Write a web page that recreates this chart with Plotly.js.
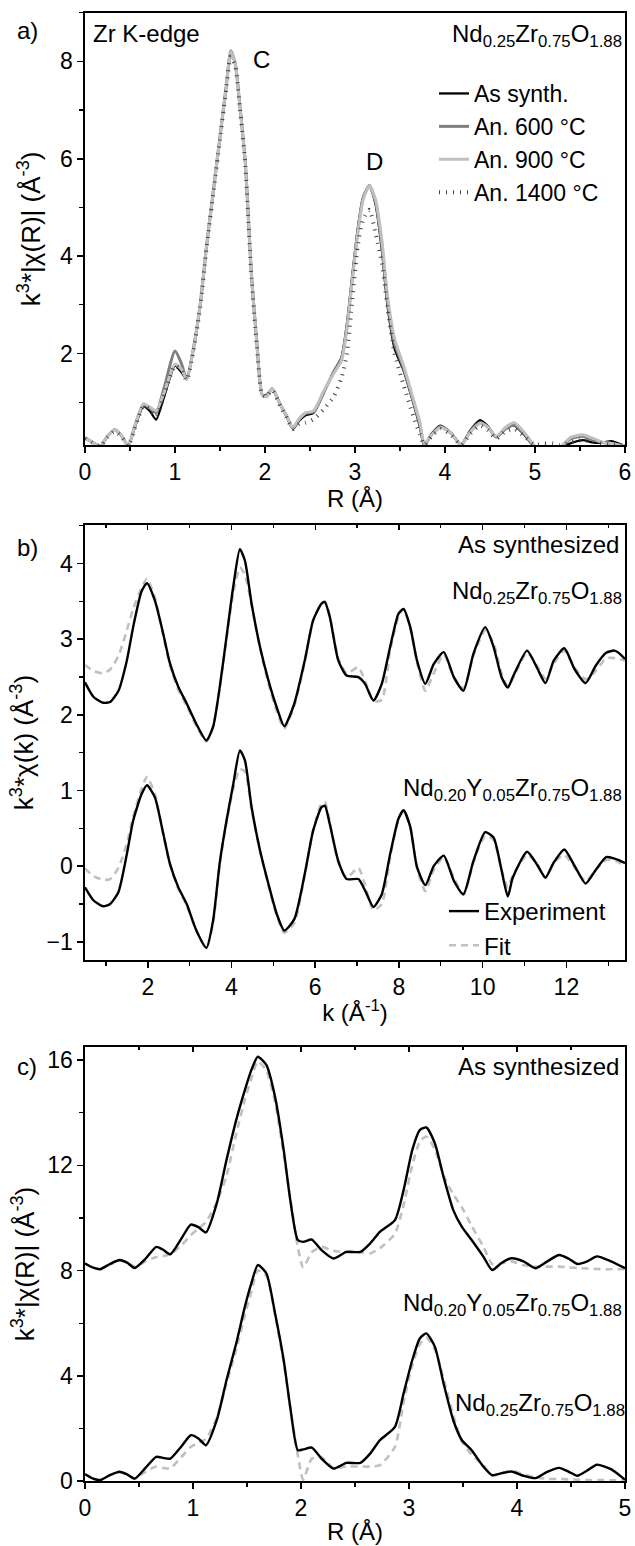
<!DOCTYPE html>
<html>
<head>
<meta charset="utf-8">
<script src="https://cdn.plot.ly/plotly-3.0.1.min.js"></script>
<style>html,body{margin:0;padding:0;background:#fff}#chart{width:635px;height:1546px}</style>
</head>
<body>
<div id="chart"></div>
<script>
// ---------- Panel a: Zr K-edge FT magnitude ----------
const Ra = [0, 0.08, 0.17, 0.25, 0.33, 0.41, 0.48, 0.56, 0.65, 0.72,
  0.79, 0.88, 1.0, 1.07, 1.13, 1.2, 1.28, 1.35, 1.43, 1.5,
  1.57, 1.62, 1.67, 1.72, 1.78, 1.85, 1.91, 1.97, 2.02, 2.08,
  2.17, 2.24, 2.31, 2.38, 2.45, 2.54, 2.65, 2.76, 2.85, 2.91,
  2.97, 3.03, 3.09, 3.16, 3.23, 3.3, 3.36, 3.44, 3.54, 3.65,
  3.72, 3.77, 3.85, 3.95, 4.07, 4.18, 4.28, 4.39, 4.48, 4.57,
  4.67, 4.77, 4.88, 5.0, 5.1, 5.2, 5.28, 5.4, 5.53, 5.65,
  5.75, 5.85, 5.93, 6.0];
const asSynth = [0.27, 0.18, 0.10, 0.30, 0.43, 0.30, 0.10, 0.52, 0.92, 0.82,
  0.64, 1.12, 1.75, 1.62, 1.47, 2.05, 3.00, 4.20, 5.40, 6.45,
  7.50, 8.20, 7.95, 7.10, 5.95, 3.60, 2.20, 1.15, 1.15, 1.28,
  0.95, 0.70, 0.45, 0.62, 0.73, 0.78, 1.18, 1.62, 1.92, 2.60,
  3.60, 4.55, 5.20, 5.45, 5.05, 4.10, 3.00, 2.10, 1.65, 0.97,
  0.50, 0.10, 0.35, 0.52, 0.36, 0.12, 0.42, 0.63, 0.50, 0.28,
  0.45, 0.52, 0.33, 0.08, 0.05, 0.05, 0.07, 0.16, 0.22, 0.17,
  0.17, 0.20, 0.15, 0.10];
const an600 = [0.27, 0.18, 0.10, 0.30, 0.44, 0.30, 0.10, 0.55, 0.95, 0.88,
  0.78, 1.30, 2.05, 1.80, 1.47, 2.05, 3.00, 4.20, 5.40, 6.45,
  7.50, 8.22, 7.95, 7.10, 5.95, 3.60, 2.20, 1.15, 1.12, 1.28,
  0.95, 0.72, 0.47, 0.65, 0.77, 0.80, 1.20, 1.60, 1.90, 2.55,
  3.55, 4.50, 5.20, 5.45, 5.10, 4.20, 3.10, 2.20, 1.70, 1.00,
  0.55, 0.12, 0.33, 0.50, 0.36, 0.12, 0.40, 0.58, 0.48, 0.28,
  0.45, 0.53, 0.35, 0.08, 0.05, 0.05, 0.08, 0.25, 0.30, 0.22,
  0.17, 0.15, 0.12, 0.10];
const an900 = [0.27, 0.18, 0.10, 0.30, 0.44, 0.30, 0.10, 0.55, 0.97, 0.90,
  0.82, 1.20, 1.78, 1.68, 1.47, 2.05, 3.00, 4.20, 5.40, 6.45,
  7.50, 8.20, 7.95, 7.10, 5.95, 3.60, 2.20, 1.15, 1.12, 1.28,
  0.95, 0.72, 0.47, 0.66, 0.78, 0.82, 1.22, 1.58, 1.85, 2.50,
  3.50, 4.45, 5.15, 5.45, 5.15, 4.30, 3.20, 2.30, 1.75, 1.05,
  0.60, 0.15, 0.33, 0.48, 0.36, 0.12, 0.38, 0.56, 0.48, 0.30,
  0.48, 0.58, 0.38, 0.10, 0.05, 0.05, 0.08, 0.28, 0.33, 0.25,
  0.18, 0.15, 0.12, 0.10];
const an1400 = [0.25, 0.17, 0.10, 0.28, 0.40, 0.28, 0.10, 0.50, 0.92, 0.85,
  0.70, 1.15, 1.75, 1.65, 1.45, 2.00, 2.95, 4.15, 5.35, 6.40,
  7.45, 8.10, 7.90, 7.05, 5.90, 3.55, 2.15, 1.15, 1.12, 1.25,
  0.92, 0.68, 0.45, 0.55, 0.58, 0.65, 0.85, 1.10, 1.50, 2.00,
  3.10, 4.20, 4.75, 4.95, 4.45, 3.85, 2.95, 2.00, 1.35, 0.70,
  0.35, 0.12, 0.30, 0.45, 0.32, 0.12, 0.35, 0.52, 0.42, 0.25,
  0.40, 0.45, 0.30, 0.12, 0.15, 0.15, 0.12, 0.18, 0.22, 0.18,
  0.15, 0.12, 0.10, 0.10];
const seriesA = ["As synth.", "An. 600 °C", "An. 900 °C", "An. 1400 °C"];

// ---------- Panel b: k-space EXAFS ----------
const kB = [0.5, 0.7, 0.93, 1.1, 1.3, 1.5, 1.65, 1.85, 1.98, 2.17,
  2.37, 2.53, 2.73, 2.93, 3.16, 3.4, 3.56, 3.72, 3.88, 4.04,
  4.2, 4.32, 4.48, 4.68, 4.88, 5.08, 5.26, 5.5, 5.75, 5.95,
  6.15, 6.23, 6.35, 6.55, 6.75, 7.03, 7.19, 7.39, 7.59, 7.79,
  7.99, 8.11, 8.27, 8.43, 8.63, 8.83, 9.07, 9.31, 9.54, 9.78,
  10.06, 10.26, 10.45, 10.6, 10.72, 11.06, 11.3, 11.5, 11.7, 11.95,
  12.2, 12.46, 12.7, 12.95, 13.15, 13.25, 13.4];
const kExpNdZr = [2.43, 2.24, 2.16, 2.17, 2.32, 2.72, 3.16, 3.63, 3.74, 3.51,
  3.07, 2.68, 2.37, 2.15, 1.88, 1.66, 1.84, 2.37, 3.03, 3.69,
  4.19, 4.04, 3.47, 2.90, 2.46, 2.10, 1.85, 2.15, 2.72, 3.25,
  3.47, 3.49, 3.29, 2.72, 2.52, 2.50, 2.41, 2.19, 2.41, 2.90,
  3.34, 3.40, 3.16, 2.72, 2.41, 2.67, 2.83, 2.50, 2.32, 2.81,
  3.16, 2.90, 2.50, 2.36, 2.50, 2.85, 2.62, 2.42, 2.72, 2.88,
  2.60, 2.42, 2.65, 2.82, 2.85, 2.82, 2.74];
const kFitNdZr = [2.66, 2.58, 2.55, 2.60, 2.78, 3.12, 3.40, 3.68, 3.80, 3.55,
  3.05, 2.65, 2.33, 2.12, 1.85, 1.65, 1.85, 2.37, 3.00, 3.60,
  3.95, 3.85, 3.45, 2.88, 2.42, 2.05, 1.82, 2.12, 2.70, 3.25,
  3.47, 3.50, 3.30, 2.75, 2.55, 2.63, 2.45, 2.18, 2.20, 2.85,
  3.30, 3.40, 3.15, 2.70, 2.32, 2.55, 2.80, 2.50, 2.35, 2.78,
  3.12, 2.95, 2.55, 2.38, 2.48, 2.82, 2.65, 2.48, 2.68, 2.85,
  2.62, 2.47, 2.58, 2.75, 2.75, 2.74, 2.72];
const kExpNdY = [-0.28, -0.45, -0.53, -0.50, -0.34, 0.16, 0.60, 0.95, 1.07, 0.91,
  0.43, 0.03, -0.28, -0.50, -0.85, -1.08, -0.72, 0.05, 0.60, 1.08,
  1.53, 1.40, 0.78, 0.21, -0.23, -0.63, -0.85, -0.70, -0.10, 0.47,
  0.78, 0.80, 0.55, 0.07, -0.17, -0.17, -0.32, -0.54, -0.37, 0.16,
  0.63, 0.74, 0.52, -0.01, -0.25, 0.00, 0.14, -0.19, -0.37, 0.07,
  0.45, 0.38, -0.05, -0.40, -0.15, 0.19, 0.02, -0.15, 0.05, 0.22,
  0.00, -0.23, -0.05, 0.12, 0.10, 0.08, 0.04];
const kFitNdY = [-0.03, -0.13, -0.18, -0.17, -0.02, 0.30, 0.65, 1.02, 1.18, 0.95,
  0.42, 0.02, -0.30, -0.52, -0.85, -1.08, -0.75, 0.02, 0.58, 1.02,
  1.28, 1.25, 0.75, 0.20, -0.25, -0.65, -0.88, -0.75, -0.12, 0.48,
  0.83, 0.85, 0.58, 0.05, -0.15, -0.02, -0.25, -0.58, -0.50, 0.12,
  0.62, 0.72, 0.52, -0.02, -0.33, -0.05, 0.12, -0.15, -0.38, 0.05,
  0.40, 0.35, -0.05, -0.28, -0.12, 0.15, 0.03, -0.16, 0.05, 0.15,
  -0.02, -0.20, -0.05, 0.08, 0.08, 0.05, 0.01];

// ---------- Panel c: R-space fits ----------
const Rc = [0, 0.07, 0.14, 0.23, 0.32, 0.39, 0.46, 0.56, 0.66, 0.72,
  0.79, 0.89, 0.98, 1.05, 1.12, 1.22, 1.31, 1.4, 1.48, 1.54,
  1.6, 1.68, 1.76, 1.84, 1.9, 1.97, 2.02, 2.1, 2.19, 2.3,
  2.42, 2.55, 2.64, 2.73, 2.87, 2.95, 3.03, 3.1, 3.16, 3.24,
  3.32, 3.41, 3.49, 3.58, 3.69, 3.77, 3.86, 3.95, 4.06, 4.17,
  4.28, 4.39, 4.48, 4.56, 4.65, 4.74, 4.87, 5.0];
const rExpNdZr = [8.27, 8.12, 8.05, 8.25, 8.40, 8.30, 8.10, 8.45, 8.90, 8.80,
  8.62, 9.20, 9.75, 9.65, 9.45, 10.55, 12.20, 13.72, 14.86, 15.62,
  16.13, 15.81, 14.60, 12.58, 10.70, 9.16, 9.09, 9.18, 8.78, 8.46,
  8.71, 8.71, 9.03, 9.47, 9.92, 11.06, 12.58, 13.34, 13.44, 12.83,
  11.56, 10.30, 9.66, 9.16, 8.52, 8.02, 8.30, 8.47, 8.35, 8.09,
  8.35, 8.59, 8.45, 8.25, 8.35, 8.54, 8.35, 8.09];
const rFitNdZr = [8.27, 8.12, 8.07, 8.22, 8.38, 8.30, 8.15, 8.35, 8.52, 8.55,
  8.62, 8.95, 9.35, 9.60, 9.85, 10.60, 11.60, 13.20, 14.50, 15.30,
  15.95, 15.60, 14.40, 12.40, 10.80, 8.90, 8.12, 8.70, 8.90, 8.75,
  8.70, 8.70, 8.65, 8.85, 9.40, 10.50, 12.00, 12.90, 13.10, 12.60,
  11.60, 10.90, 10.40, 9.70, 8.90, 8.25, 8.28, 8.35, 8.20, 8.15,
  8.15, 8.15, 8.12, 8.10, 8.08, 8.06, 8.05, 8.05];
const rExpNdY = [0.26, 0.10, 0.03, 0.22, 0.35, 0.25, 0.09, 0.50, 0.92, 0.88,
  0.85, 1.30, 1.74, 1.62, 1.36, 2.31, 3.83, 5.23, 6.62, 7.51,
  8.21, 7.89, 6.37, 4.59, 2.82, 1.17, 1.20, 1.27, 0.85, 0.47,
  0.69, 0.69, 1.04, 1.55, 2.06, 3.33, 4.59, 5.42, 5.61, 5.10,
  3.71, 2.31, 1.55, 1.17, 0.54, 0.22, 0.30, 0.36, 0.20, 0.11,
  0.35, 0.50, 0.35, 0.20, 0.40, 0.62, 0.45, 0.05];
const rFitNdY = [0.26, 0.12, 0.05, 0.22, 0.33, 0.25, 0.10, 0.35, 0.55, 0.50,
  0.48, 0.90, 1.30, 1.45, 1.60, 2.40, 3.70, 5.00, 6.30, 7.20,
  8.00, 7.80, 6.30, 4.50, 2.80, 1.00, 0.05, 0.85, 0.90, 0.50,
  0.55, 0.55, 0.55, 0.60, 1.30, 3.00, 4.40, 5.20, 5.45, 5.00,
  3.90, 2.50, 1.50, 1.00, 0.60, 0.20, 0.30, 0.40, 0.25, 0.15,
  0.08, 0.08, 0.06, 0.05, 0.04, 0.04, 0.03, 0.03];

const fNdZr = "Nd<sub>0.25</sub>Zr<sub>0.75</sub>O<sub>1.88</sub>";
const fNdY = "Nd<sub>0.20</sub>Y<sub>0.05</sub>Zr<sub>0.75</sub>O<sub>1.88</sub>";

// ---------- drawing ----------
const FONT = "Liberation Sans, Arial, sans-serif";
const W = 635, H = 1546, ML = 85, MR = 10, MT = 10, MB = 65;
const PW = W - ML - MR, PH = H - MT - MB;
const fx = px => (px - ML) / PW;
const fy = py => (H - MB - py) / PH;

const line = (x, y, xa, ya, name, color, width, dash, leg, show) => ({
  type: "scatter", mode: "lines", x: x, y: y, xaxis: xa, yaxis: ya, name: name,
  line: {color: color, width: width, dash: dash || "solid", shape: "spline", smoothing: 0.6},
  legend: leg || "legend", showlegend: !!show, hoverinfo: "skip"
});

const traces = [
  line(Ra, asSynth, "x", "y", seriesA[0], "#000000", 2.3, "solid", "legend", true),
  line(Ra, an600, "x", "y", seriesA[1], "#7f7f7f", 3, "solid", "legend", true),
  line(Ra, an900, "x", "y", seriesA[2], "#c0c0c0", 3, "solid", "legend", true),
  line(Ra, an1400, "x", "y", seriesA[3], "#444444", 4, "1px,6px", "legend", true),
  line(kB, kFitNdZr, "x2", "y2", "Fit", "#c0c0c0", 2.6, "7px,5px", "legend2", true),
  line(kB, kExpNdZr, "x2", "y2", "Experiment", "#000000", 2.4, "solid", "legend2", true),
  line(kB, kFitNdY, "x2", "y2", "Fit", "#c0c0c0", 2.6, "7px,5px", "legend2", false),
  line(kB, kExpNdY, "x2", "y2", "Experiment", "#000000", 2.4, "solid", "legend2", false),
  line(Rc, rFitNdZr, "x3", "y3", "Fit", "#c0c0c0", 2.6, "7px,5px", "legend2", false),
  line(Rc, rExpNdZr, "x3", "y3", "Experiment", "#000000", 2.4, "solid", "legend2", false),
  line(Rc, rFitNdY, "x3", "y3", "Fit", "#c0c0c0", 2.6, "7px,5px", "legend2", false),
  line(Rc, rExpNdY, "x3", "y3", "Experiment", "#000000", 2.4, "solid", "legend2", false)
];

const tickFont = {family: FONT, size: 23, color: "#000"};
const xTitleFont = {family: FONT, size: 24, color: "#000"};
const yTitleFont = {family: FONT, size: 26, color: "#000"};
const baseAx = {
  showgrid: false, zeroline: false, showline: true, linecolor: "#000", linewidth: 1.6,
  mirror: true, ticks: "outside", ticklen: 6, tickwidth: 1.5, tickcolor: "#000",
  tickfont: tickFont, automargin: false
};
const ax = o => Object.assign({}, baseAx, o);
const minor = d => ({dtick: d, ticks: "outside", ticklen: 4, tickwidth: 1.3, tickcolor: "#000", showgrid: false});
const topTicks = (over, ya, range, d, dm) => ({overlaying: over, anchor: ya, side: "top", range: range, tick0: 0, dtick: d,
  ticks: "inside", ticklen: 5, tickwidth: 1.3, tickcolor: "#000", showticklabels: false,
  showgrid: false, zeroline: false, showline: false,
  minor: {dtick: dm, ticks: "inside", ticklen: 3, tickwidth: 1.2, tickcolor: "#000"}});

const layout = {
  width: W, height: H,
  margin: {l: ML, r: MR, t: MT, b: MB},
  paper_bgcolor: "#fff", plot_bgcolor: "#fff",
  font: {family: FONT, size: 23, color: "#000"},
  xaxis: ax({domain: [0, 1], anchor: "y", range: [0, 6], tick0: 0, dtick: 1, minor: minor(0.5),
    title: {text: "R (Å)", font: xTitleFont, standoff: 5}}),
  yaxis: ax({domain: [fy(445), fy(12.7)], anchor: "x", range: [0.12, 9.0], tick0: 0, dtick: 2, minor: minor(1),
    title: {text: "k<sup>3</sup>*|χ(R)| (Å<sup>-3</sup>)", font: yTitleFont, standoff: 12}}),
  xaxis2: ax({domain: [0, 1], anchor: "y2", range: [0.5, 13.4], tick0: 0, dtick: 2, minor: minor(1),
    title: {text: "k (Å<sup>-1</sup>)", font: xTitleFont, standoff: 5}}),
  yaxis2: ax({domain: [fy(960), fy(525)], anchor: "x2", range: [-1.24, 4.51], tick0: 0, dtick: 1, minor: minor(0.5),
    title: {text: "k<sup>3</sup>*χ(k) (Å<sup>-3</sup>)", font: yTitleFont, standoff: 5}}),
  xaxis3: ax({domain: [0, 1], anchor: "y3", range: [0, 5], tick0: 0, dtick: 1, minor: minor(0.5),
    title: {text: "R (Å)", font: xTitleFont, standoff: 3}}),
  yaxis3: ax({domain: [0, fy(1047)], anchor: "x3", range: [0, 16.5], tick0: 0, dtick: 4, minor: minor(2),
    title: {text: "k<sup>3</sup>*|χ(R)| (Å<sup>-3</sup>)", font: yTitleFont, standoff: 5}}),
  xaxis4: topTicks("x2", "y2", [0.5, 13.4], 2, 1),
  xaxis5: topTicks("x3", "y3", [0, 5], 1, 0.5),
  legend: {x: fx(434), y: fy(72), xref: "paper", yref: "paper", xanchor: "left", yanchor: "top",
    bgcolor: "rgba(0,0,0,0)", font: {family: FONT, size: 23, color: "#000"}, tracegroupgap: 0, itemwidth: 30},
  legend2: {x: fx(444), y: fy(889), xref: "paper", yref: "paper", xanchor: "left", yanchor: "top",
    traceorder: "reversed",
    bgcolor: "rgba(0,0,0,0)", font: {family: FONT, size: 24, color: "#000"}, tracegroupgap: 0, itemwidth: 30},
  annotations: []
};

const ann = (text, px, py, xanchor) => ({
  text: text, x: fx(px), y: fy(py), xref: "paper", yref: "paper",
  xanchor: xanchor, yanchor: "middle", showarrow: false,
  font: {family: FONT, size: 24, color: "#000"}
});
layout.annotations.push(
  ann("a)", 15, 31, "left"),
  ann("Zr K-edge", 91, 33, "left"),
  ann("C", 261, 60, "center"),
  ann("D", 374, 161, "center"),
  ann(fNdZr, 624, 36, "right"),
  ann("b)", 15, 548, "left"),
  ann("As synthesized", 621, 544, "right"),
  ann(fNdZr, 624, 592, "right"),
  ann(fNdY, 624, 789, "right"),
  ann("c)", 15, 1067, "left"),
  ann("As synthesized", 621, 1066, "right"),
  ann(fNdY, 624, 1304, "right"),
  ann(fNdZr, 627, 1404, "right")
);

// invisible anchors so the overlay top-tick axes are drawn
traces.push({type: "scatter", mode: "lines", x: [0.5], y: [0], xaxis: "x4", yaxis: "y2", showlegend: false, hoverinfo: "skip", line: {width: 0}});
traces.push({type: "scatter", mode: "lines", x: [0], y: [0], xaxis: "x5", yaxis: "y3", showlegend: false, hoverinfo: "skip", line: {width: 0}});

Plotly.newPlot("chart", traces, layout, {displayModeBar: false, staticPlot: true});
</script>
</body>
</html>
